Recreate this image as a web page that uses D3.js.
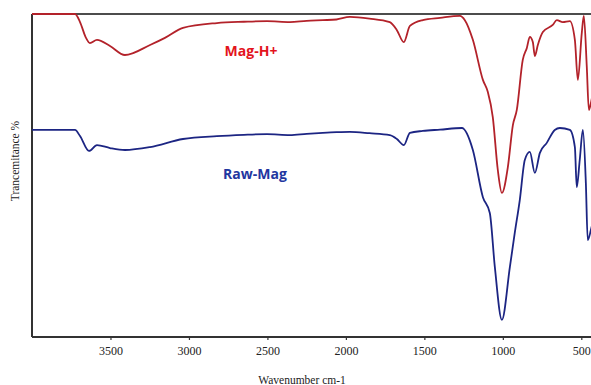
<!DOCTYPE html>
<html>
<head>
<meta charset="utf-8">
<script src="https://cdn.jsdelivr.net/npm/d3@7"></script>
<style>
    body { margin: 0; background: #fff; }
    svg { display: block; }
</style>
</head>
<body>
<div id="chart"></div>
<script>
/*
    FTIR spectra: Mag-H+ and Raw-Mag
 */

// wavenumber (cm-1) for each sample point
var mag_h_wave = [4000, 3726, 3694, 3656, 3631, 3586, 3503, 3408, 3248, 3153, 3038, 2822, 2650, 2503, 2357, 2250, 2147, 2060, 1975, 1850, 1720, 1675, 1631, 1592, 1510, 1400, 1274, 1242, 1191, 1127, 1096, 1064, 1032, 1006, 968, 936, 911, 873, 847, 828, 809, 796, 777, 745, 682, 656, 618, 573, 541, 522, 497, 484, 465, 452, 439, 425];
var mag_h_trans = [100, 100, 97.5, 92.6, 91.0, 92.0, 90.1, 87.3, 90.4, 92.6, 95.7, 97.2, 97.6, 97.8, 97.5, 97.9, 98.1, 98.3, 99.1, 98.6, 97.5, 95.0, 91.3, 96.3, 98.1, 98.8, 99.4, 98.1, 92.0, 79.6, 75.9, 68.1, 51.7, 44.6, 52.6, 65.6, 70.3, 85.8, 89.5, 92.9, 91.3, 87.0, 90.4, 94.4, 96.6, 98.1, 97.5, 97.8, 92.0, 79.6, 94.1, 99.4, 83.6, 70.3, 72.4, 76.0];

var raw_mag_wave = [4000, 3726, 3694, 3637, 3586, 3503, 3408, 3248, 3038, 2822, 2650, 2503, 2357, 2250, 2147, 2060, 1975, 1850, 1720, 1675, 1631, 1592, 1510, 1400, 1261, 1191, 1127, 1083, 1051, 1006, 955, 924, 892, 860, 828, 796, 764, 720, 669, 637, 573, 541, 529, 510, 490, 471, 459, 439, 425];
var raw_mag_trans = [64.1, 64.1, 62.2, 57.6, 59.4, 58.5, 57.9, 58.8, 61.3, 62.2, 62.6, 62.8, 62.5, 62.9, 63.2, 63.4, 63.5, 63.1, 62.5, 61.3, 59.4, 63.2, 63.8, 64.2, 64.7, 57.9, 43.3, 38.4, 21.7, 5.3, 21.7, 32.2, 42.4, 54.8, 57.3, 50.8, 57.0, 60.1, 64.1, 64.7, 64.1, 58.8, 46.4, 54.8, 64.1, 47.7, 30.0, 33.1, 36.0];

var series_names = ['Mag-H+', 'Raw-Mag'];
var x_ticks = [3500, 3000, 2500, 2000, 1500, 1000, 500];

var svg_size = {
    'width': 591,
    'height': 385
};

var plot = {
    'left': 32,
    'top': 14,
    'right': 597,
    'bottom': 337
};

var serif_font = '"Liberation Serif", "DejaVu Serif", serif';

var svg = d3.select('#chart')
    .append('svg')
    .attr('width', svg_size.width)
    .attr('height', svg_size.height);

var x_scale = d3.scaleLinear()
    .domain([4000, 400])
    .range([plot.left, plot.right]);

var y_scale = d3.scaleLinear()
    .domain([0, 100])
    .range([plot.bottom, plot.top]);

// frame: top and left
svg.append('line')
    .attr('x1', plot.left).attr('x2', svg_size.width)
    .attr('y1', plot.top).attr('y2', plot.top)
    .style('stroke', '#111').style('stroke-width', 1.5);

svg.append('line')
    .attr('x1', plot.left).attr('x2', plot.left)
    .attr('y1', plot.top).attr('y2', plot.bottom)
    .style('stroke', '#333').style('stroke-width', 2);

// x axis
var x_axis = d3.axisBottom(x_scale)
    .tickValues(x_ticks)
    .tickFormat(d3.format('d'))
    .tickSizeInner(3)
    .tickSizeOuter(0)
    .tickPadding(6);

var axis_group = svg.append('g')
    .attr('transform', 'translate(0,' + plot.bottom + ')')
    .call(x_axis)
    .attr('font-family', serif_font)
    .attr('font-size', 12);

axis_group.select('.domain')
    .attr('d', 'M' + plot.left + ',0H' + svg_size.width)
    .style('stroke', '#333')
    .style('stroke-width', 2);

axis_group.selectAll('.tick line')
    .style('stroke', '#333')
    .style('stroke-width', 1.2);

axis_group.selectAll('.tick text')
    .attr('fill', '#222');

// axis titles
svg.append('text')
    .attr('x', 302)
    .attr('y', 380)
    .attr('text-anchor', 'middle')
    .attr('dominant-baseline', 'central')
    .attr('font-family', serif_font)
    .attr('font-size', 11.5)
    .attr('fill', '#222')
    .text('Wavenumber cm-1');

svg.append('text')
    .attr('transform', 'translate(15,161) rotate(-90)')
    .attr('text-anchor', 'middle')
    .attr('dominant-baseline', 'central')
    .attr('font-family', serif_font)
    .attr('font-size', 11.5)
    .attr('fill', '#222')
    .text('Trancemitance %');

// spectra
var line = d3.line()
    .x(function(d){ return x_scale(d[0]); })
    .y(function(d){ return y_scale(d[1]); })
    .curve(d3.curveMonotoneX);

var spectra = [
    {'name': series_names[0], 'wave': mag_h_wave, 'trans': mag_h_trans, 'color': '#b3222a', 'label_color': '#e3141c', 'label_x': 251, 'label_y': 50},
    {'name': series_names[1], 'wave': raw_mag_wave, 'trans': raw_mag_trans, 'color': '#1c2583', 'label_color': '#2236a0', 'label_x': 255, 'label_y': 173}
];

svg.append('clipPath')
    .attr('id', 'plot-clip')
    .append('rect')
    .attr('x', plot.left)
    .attr('y', plot.top - 2)
    .attr('width', svg_size.width - plot.left)
    .attr('height', plot.bottom - plot.top + 2);

var spectra_group = svg.append('g')
    .attr('clip-path', 'url(#plot-clip)');

spectra_group.selectAll('.spectrum')
    .data(spectra)
    .enter()
    .append('path')
    .classed('spectrum', true)
    .attr('d', function(d){
        return line(d3.zip(d.wave, d.trans));
    })
    .style('fill', 'none')
    .style('stroke', function(d){ return d.color; })
    .style('stroke-width', 1.8)
    .style('stroke-linejoin', 'round');

svg.selectAll('.spectrum-label')
    .data(spectra)
    .enter()
    .append('text')
    .classed('spectrum-label', true)
    .attr('x', function(d){ return d.label_x; })
    .attr('y', function(d){ return d.label_y; })
    .attr('text-anchor', 'middle')
    .attr('dominant-baseline', 'central')
    .attr('font-family', '"Open Sans", "Noto Sans", sans-serif')
    .attr('font-weight', 'bold')
    .attr('font-size', 14)
    .attr('fill', function(d){ return d.label_color; })
    .text(function(d){ return d.name; });
</script>
</body>
</html>
